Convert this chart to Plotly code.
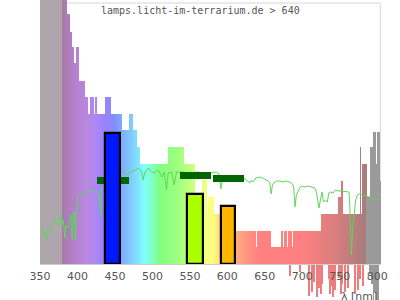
import numpy as np
import plotly.graph_objects as go

# ---------------- data ----------------
# spectral histogram: segment start wavelength (nm) and height (value units)
hist_start = [350, 380, 386, 389, 392, 395, 399, 401, 409, 413, 418, 420, 421, 422, 424, 426,
              437, 439, 440, 444, 459, 469, 473, 479, 483, 521, 524, 525, 528, 529, 532, 533,
              536, 538, 541, 556, 567, 572, 575, 577, 579, 582, 591, 611, 624, 626, 629, 631,
              634, 635, 638, 640, 644, 645, 648, 650, 657, 672, 674, 676, 679, 681, 686, 688,
              692, 694, 701, 703, 705, 707, 712, 714, 721, 723, 725, 728, 730, 748, 752, 754,
              761, 763, 777, 778, 780, 781, 783, 785, 791, 793, 795, 797, 798, 800, 801, 803]
hist_value = [300, 300, 250, 232, 217, 201, 217, 183, 167, 150, 167, 150, 167, 150, 167, 150,
              167, 150, 167, 150, 134, 150, 134, 117, 100, 117, 100, 117, 100, 117, 100, 117,
              100, 117, 100, 67, 84, 50, 67, 50, 67, 50, 42, 33, 17, 33, 17, 33,
              17, 33, 17, 33, 17, 33, 17, 33, 17, 33, 17, 33, 17, 33, 17, 33,
              17, 33, 17, 33, 17, 33, 17, 33, 17, 33, 50, 17, 50, 67, 83, 50,
              17, 50, 117, 50, 100, 50, 100, 67, 117, 67, 132, 83, 100, 67, 132, 83]
hist_end = 805

# lines that reach below the axis (negative values)
neg_nm = [684, 697.5, 709, 712.5, 715.5, 719, 722, 724.5, 726.5, 735.5, 737.5, 739, 741, 744,
          748.5, 751, 753.5, 756.5, 761, 770, 774.5, 777.5, 781, 790, 793, 795, 797, 799, 801]
neg_val = [-12, -8, -32, -28, -18, -33, -24, -30, -20, -15, -30, -22, -33, -26,
           -14, -30, -20, -28, -24, -30, -26, -15, -22, -10, -20, -36, -28, -36, -36]

# measured spectrum (green line)
line_nm = [351, 353, 355, 356.7, 358, 361, 364, 367.8, 370, 372, 374.4, 377.5, 379.3, 381, 383.3,
           384.7, 387.8, 390.9, 393, 394.4, 395.8, 397.1, 398.4, 400.2, 402.4, 405.5, 408.6, 412.2,
           416.6, 420.2, 423.3, 426.4, 429, 430.9, 432.2, 434.4, 440, 450, 458.9, 463.3, 466.4, 470,
           474.4, 478, 481, 485.5, 487.7, 490, 494.4, 498.9, 503.3, 506.9, 510, 513, 515.7, 518.9,
           521, 525.5, 529, 532.2, 540, 550, 560, 570, 578, 585, 589, 591.3, 594, 600, 610, 621.9,
           627.7, 630, 632.2, 634.4, 638, 642.4, 646.8, 651.2, 654.4, 656.6, 658.4, 660.2, 661.9,
           665.5, 669.9, 674.3, 678.8, 683.2, 686.8, 688.5, 690.3, 692.1, 694.4, 696.6, 698.8, 703.2,
           707.6, 712.2, 716.6, 718.8, 721, 722.3, 724.6, 726.3, 728.2, 730.8, 733.5, 735.2, 737.9,
           741, 744.1, 747.6, 752.2, 758.8, 762.3, 763.2, 764.5, 765.5, 766.8, 768.2, 769.9, 771.2,
           773.5, 776.5, 780.9, 785.5, 789.9, 794.3, 798.8, 803.2]
line_val = [32, 36, 30, 32, 23, 34, 33, 42, 40, 42, 39, 50, 39, 44, 26,
            39, 36, 49, 24, 51, 52, 24, 54, 65, 69, 70, 71, 72,
            73, 72, 73, 72, 69, 48, 76, 77, 82, 88, 93, 92, 89, 92,
            93, 94, 96, 93, 84, 92, 96, 92, 91, 94, 91, 87, 92, 74,
            91, 92, 79, 92, 92, 91, 92, 91, 91, 92, 90, 75, 88, 87, 86, 86,
            83, 81, 84, 82, 86, 87, 86, 84, 83, 81, 70, 79, 81,
            83, 83, 82, 83, 82, 80, 77, 57, 69, 73, 76, 78, 77,
            78, 77, 76, 72, 64, 56, 66, 72, 62, 64, 62, 71, 72,
            71, 74, 73, 73, 72, 72, 61, 34, 9, 31, 44, 54, 64,
            69, 70, 69, 68, 67, 65, 64, 65]

# dark green range markers
dg_start = [426.0, 536.6, 580.6]
dg_end = [468.6, 578.0, 621.9]
dg_level = [83.5, 88.5, 85.8]

# outlined peak bars
peak_center = [446.6, 556.4, 600.7]
peak_width = [20.0, 21.0, 18.7]
peak_value = [131, 70.3, 58]
peak_color = ['#0018ff', '#aaff00', '#ffb400']

tick_vals = [350, 400, 450, 500, 550, 600, 650, 700, 750, 800]
title_text = "lamps.licht-im-terrarium.de > 640"
axis_title = "λ [nm]"

# ---------------- colour style ----------------
color_stops = [
    (350, (173, 167, 173)), (379.9, (173, 167, 173)),
    (380, (166, 122, 166)), (400, (182, 130, 210)), (415, (185, 136, 224)),
    (428, (168, 134, 250)), (437, (156, 128, 255)), (450, (128, 144, 255)),
    (465, (128, 184, 255)), (480, (128, 224, 255)), (490, (128, 255, 255)),
    (500, (128, 255, 200)), (510, (128, 255, 128)), (530, (152, 255, 128)),
    (550, (192, 255, 128)), (570, (240, 255, 128)), (580, (255, 255, 128)),
    (590, (255, 224, 128)), (610, (255, 176, 128)), (630, (255, 144, 128)),
    (645, (255, 128, 128)), (700, (255, 128, 128)), (740, (222, 126, 126)),
    (784.9, (168, 124, 124)), (785, (154, 154, 154)), (806, (154, 154, 154)),
]


def wl_color(w):
    for (w0, c0), (w1, c1) in zip(color_stops[:-1], color_stops[1:]):
        if w0 <= w <= w1:
            t = 0 if w1 == w0 else (w - w0) / (w1 - w0)
            r, g, b = [round(a + (bb - a) * t) for a, bb in zip(c0, c1)]
            return f'rgb({r},{g},{b})'
    return 'rgb(154,154,154)'


# expand the histogram segments into 1-nm bars (for colour gradient)
bins = np.arange(hist_start[0], hist_end)
idx = np.searchsorted(hist_start, bins, side='right') - 1
hist_heights = [hist_value[i] for i in idx]
hist_x = bins + 0.5
hist_colors = [wl_color(x) for x in hist_x]

neg_colors = ['#999999' if w >= 785 else '#ee7e7e' for w in neg_nm]

fig = go.Figure()
fig.add_trace(go.Bar(x=hist_x, y=hist_heights, width=1.04, marker=dict(color=hist_colors, line=dict(width=0)),
                     hoverinfo='skip'))
fig.add_trace(go.Bar(x=neg_nm, y=neg_val, width=1.3, marker=dict(color=neg_colors, line=dict(width=0)),
                     hoverinfo='skip'))
fig.add_trace(go.Scatter(x=line_nm, y=line_val, mode='lines', line=dict(color='#5fd65a', width=1),
                         hoverinfo='skip'))

# overlay subplot so these are on top of the line
dg_thick = 6.6
fig.add_trace(go.Bar(x=[(a + b) / 2 for a, b in zip(dg_start, dg_end)],
                     width=[b - a for a, b in zip(dg_start, dg_end)],
                     base=[v - dg_thick / 2 for v in dg_level], y=[dg_thick] * len(dg_level),
                     marker=dict(color='#006400', line=dict(width=0)), xaxis='x2', yaxis='y2'))
fig.add_trace(go.Bar(x=peak_center, width=peak_width, y=peak_value,
                     marker=dict(color=peak_color, line=dict(color='black', width=2.2)),
                     xaxis='x2', yaxis='y2'))

XR = [350, 805]
YR = [-36, 264]
frame_col = '#d6d6d6'
shapes = [
    dict(type='line', xref='x', yref='y', x0=350.6, x1=350.6, y0=0, y1=261, line=dict(color=frame_col, width=1), layer='below'),
    dict(type='line', xref='x', yref='y', x0=350, x1=804, y0=261, y1=261, line=dict(color=frame_col, width=1), layer='below'),
    dict(type='line', xref='x', yref='y', x0=804, x1=804, y0=0, y1=261, line=dict(color=frame_col, width=1), layer='below'),
    dict(type='line', xref='x', yref='y', x0=350, x1=804.5, y0=-0.5, y1=-0.5, line=dict(color='#cccccc', width=1), layer='above'),
]

fig.update_layout(
    width=400, height=300, margin=dict(l=40, r=19, t=0, b=0),
    paper_bgcolor='white', plot_bgcolor='white',
    barmode='overlay', bargap=0, showlegend=False,
    xaxis=dict(range=XR, tickvals=tick_vals, ticktext=[str(t) for t in tick_vals],
               showgrid=False, zeroline=False, showline=False, ticks='',
               anchor='free', position=36 / 300,
               tickfont=dict(family='DejaVu Sans', size=11, color='#555555'), ticklabelstandoff=4),
    yaxis=dict(range=YR, visible=False, showgrid=False, zeroline=False),
    xaxis2=dict(range=XR, overlaying='x', visible=False, anchor='y2'),
    yaxis2=dict(range=YR, overlaying='y', visible=False, anchor='x2'),
    shapes=shapes,
    annotations=[
        dict(text=title_text, xref='paper', yref='paper', x=(200.8 - 40) / 341, y=(300 - 11) / 300,
             xanchor='center', yanchor='middle', showarrow=False,
             font=dict(family='DejaVu Sans Mono', size=10, color='#555555')),
        dict(text=axis_title, xref='paper', yref='paper', x=(378.5 - 40) / 341, y=(300 - 288) / 300,
             xanchor='right', yanchor='top', showarrow=False,
             font=dict(family='DejaVu Sans', size=11, color='#555555')),
    ],
)

fig.write_html("out.html")
